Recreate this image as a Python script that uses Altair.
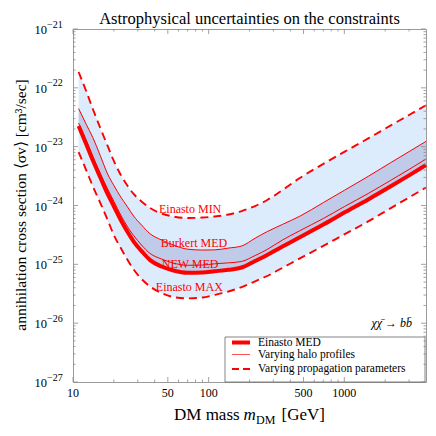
import altair as alt
import pandas as pd

# ---------------- data ----------------
mass = [11, 12.5, 14, 16, 18, 20, 22.5, 25, 28, 32, 37, 45, 55, 70, 90, 110,
        140, 175, 220, 270, 350, 470, 700, 1000, 1500, 2200, 3000, 4000]
einasto_med = [2.25e-23, 1.11e-23, 5.86e-24, 2.90e-24, 1.57e-24, 9.69e-25, 5.67e-25,
               3.68e-25, 2.44e-25, 1.68e-25, 1.18e-25, 9.18e-26, 7.85e-26, 7.18e-26,
               7.26e-26, 7.61e-26, 8.07e-26, 8.83e-26, 1.14e-25, 1.44e-25, 2.01e-25,
               2.89e-25, 4.75e-25, 7.57e-25, 1.27e-24, 2.12e-24, 3.25e-24, 4.88e-24]
new_med = [2.52e-23, 1.30e-23, 6.86e-24, 3.39e-24, 1.91e-24, 1.18e-24, 6.89e-25,
           4.48e-25, 3.09e-25, 2.13e-25, 1.53e-25, 1.23e-25, 1.05e-25, 9.62e-26,
           9.73e-26, 1.02e-25, 1.06e-25, 1.12e-25, 1.41e-25, 1.79e-25, 2.59e-25,
           3.73e-25, 6.01e-25, 9.57e-25, 1.60e-24, 2.68e-24, 4.10e-24, 6.17e-24]
burkert_med = [4.45e-23, 2.41e-23, 1.43e-23, 6.75e-24, 3.43e-24, 2.20e-24, 1.39e-24,
               9.76e-25, 6.60e-25, 4.66e-25, 3.31e-25, 2.59e-25, 2.13e-25, 1.81e-25,
               1.75e-25, 1.76e-25, 1.89e-25, 2.05e-25, 2.78e-25, 3.60e-25, 4.77e-25,
               6.58e-25, 1.12e-24, 1.81e-24, 3.13e-24, 5.36e-24, 8.24e-24, 1.23e-23]
einasto_min = [1.86e-22, 8.83e-23, 4.37e-23, 2.00e-23, 1.03e-23, 5.71e-24, 3.30e-24,
               2.23e-24, 1.57e-24, 1.17e-24, 9.06e-25, 7.31e-25, 6.50e-25, 6.12e-25,
               6.25e-25, 6.50e-25, 7.03e-25, 8.05e-25, 9.80e-25, 1.24e-24, 1.83e-24,
               2.93e-24, 5.09e-24, 8.15e-24, 1.38e-23, 2.30e-23, 3.45e-23, 5.05e-23]
einasto_max = [8.11e-24, 4.01e-24, 2.12e-24, 1.07e-24, 5.67e-25, 3.15e-25, 1.89e-25,
               1.23e-25, 8.16e-26, 5.63e-26, 4.20e-26, 3.25e-26, 2.78e-26, 2.64e-26,
               2.73e-26, 3.01e-26, 3.45e-26, 4.11e-26, 5.14e-26, 6.33e-26, 8.73e-26,
               1.26e-25, 2.06e-25, 3.23e-25, 5.37e-25, 9.03e-25, 1.37e-24, 2.02e-24]

curve_labels = ["Einasto MIN", "Burkert MED", "NEW MED", "Einasto MAX"]
curve_label_mass = [73, 78, 73, 72]
curve_label_sigma = [8.6e-25, 2.33e-25, 1.0e-25, 4.17e-26]

x_labels = [10, 50, 100, 500, 1000]
x_minor = [20, 30, 40, 60, 70, 80, 90, 200, 300, 400, 600, 700, 800, 900, 2000, 3000]
y_exponents = [-27, -26, -25, -24, -23, -22, -21]

legend_labels = ["Einasto MED", "Varying halo profiles", "Varying propagation parameters"]
title_text = "Astrophysical uncertainties on the constraints"
y_title = "annihilation cross section \u27e8\u03c3v\u27e9 [cm\u00b3/sec]"
process_text = "\u03c7\u03c7\u0304 \u2192 bb\u0304"

# ---------------- styling ----------------
FONT = "Liberation Serif"
RED = "#ff0000"
LIGHT = "#dcecfc"
DARK = "#bfcbe8"
TICK = "#8a8a8a"
W, H = 353, 353

df = pd.DataFrame({"mass": mass, "einasto_med": einasto_med, "new_med": new_med,
                   "burkert": burkert_med, "ein_min": einasto_min, "ein_max": einasto_max})

xs = alt.Scale(type="log", domain=[10, 4000], nice=False)
ys = alt.Scale(type="log", domain=[1e-27, 1e-21], nice=False)
X = alt.X("mass:Q", scale=xs, axis=None)

base = alt.Chart(df)
light = base.mark_area(color=LIGHT, interpolate="monotone").encode(
    x=X, y=alt.Y("ein_min:Q", scale=ys, axis=None), y2="ein_max:Q")
dark = base.mark_area(color=DARK, interpolate="monotone").encode(
    x=X, y=alt.Y("burkert:Q", scale=ys, axis=None), y2="einasto_med:Q")


def curve(field, **kw):
    return base.mark_line(color=RED, interpolate="monotone", **kw).encode(
        x=X, y=alt.Y(f"{field}:Q", scale=ys, axis=None))


lines = [
    curve("ein_min", strokeWidth=1.9, strokeDash=[8, 5]),
    curve("ein_max", strokeWidth=1.9, strokeDash=[8, 5]),
    curve("burkert", strokeWidth=1),
    curve("new_med", strokeWidth=1),
    curve("einasto_med", strokeWidth=4),
]

lab_df = pd.DataFrame({"t": curve_labels, "m": curve_label_mass, "s": curve_label_sigma})
labels = alt.Chart(lab_df).mark_text(font=FONT, fontSize=12, color=RED, baseline="middle").encode(
    x=alt.X("m:Q", scale=xs, axis=None), y=alt.Y("s:Q", scale=ys, axis=None), text="t:N")

one = pd.DataFrame({"k": [0]})


def txt(s, x, y, **kw):
    return alt.Chart(pd.DataFrame({"t": [s]})).mark_text(font=FONT, **kw).encode(
        text="t:N", x=alt.value(x), y=alt.value(y))


def rule(x, x2, y, y2, **kw):
    return alt.Chart(one).mark_rule(**kw).encode(
        x=alt.value(x), x2=alt.value(x2), y=alt.value(y), y2=alt.value(y2))


# legend
legend_box = alt.Chart(one).mark_rect(fill="white", stroke="#666666", strokeWidth=0.8).encode(
    x=alt.value(152), x2=alt.value(352), y=alt.value(308), y2=alt.value(353))
rows = [313.5, 325.5, 340]
legend = [
    legend_box,
    rule(159, 177, rows[0], rows[0], color=RED, strokeWidth=4),
    rule(159, 177, rows[1], rows[1], color="#ff5050", strokeWidth=1),
    rule(159, 177, rows[2], rows[2], color=RED, strokeWidth=1.9, strokeDash=[7, 4]),
]
for lbl, ry in zip(legend_labels, rows):
    legend.append(txt(lbl, 185, ry, fontSize=11.5, align="left", baseline="middle", color="black"))
legend.append(txt(process_text, 339, 298, fontSize=12, fontStyle="italic", align="right",
                  baseline="alphabetic", color="black"))

# ticks (drawn inside the frame)
xmaj = pd.DataFrame({"v": x_labels})
xmin = pd.DataFrame({"v": x_minor})
ymaj = pd.DataFrame({"v": [10.0 ** e for e in y_exponents]})
ymin = pd.DataFrame({"v": [k * 10.0 ** e for e in y_exponents[:-1] for k in range(2, 10)]})


def xt(d, L):
    xe = alt.X("v:Q", scale=xs, axis=None)
    return [alt.Chart(d).mark_rule(color=TICK, strokeWidth=0.8).encode(x=xe, y=alt.value(H), y2=alt.value(H - L)),
            alt.Chart(d).mark_rule(color=TICK, strokeWidth=0.8).encode(x=xe, y=alt.value(0), y2=alt.value(L))]


def yt(d, L):
    ye = alt.Y("v:Q", scale=ys, axis=None)
    return [alt.Chart(d).mark_rule(color=TICK, strokeWidth=0.8).encode(y=ye, x=alt.value(0), x2=alt.value(L)),
            alt.Chart(d).mark_rule(color=TICK, strokeWidth=0.8).encode(y=ye, x=alt.value(W), x2=alt.value(W - L))]


ticks = xt(xmaj, 5) + xt(xmin, 2.5) + yt(ymaj, 5) + yt(ymin, 2.5)

# tick labels
xl = alt.Chart(pd.DataFrame({"v": x_labels, "t": [str(v) for v in x_labels]})).mark_text(
    font=FONT, fontSize=12, baseline="alphabetic", align="center", color="black").encode(
    x=alt.X("v:Q", scale=xs, axis=None), y=alt.value(368), text="t:N")
ydf = pd.DataFrame({"v": [10.0 ** e for e in y_exponents],
                    "b": ["10"] * len(y_exponents),
                    "e": ["\u2212" + str(-e) for e in y_exponents]})
yl_base = alt.Chart(ydf).mark_text(font=FONT, fontSize=12.5, align="right", baseline="alphabetic",
                                   dy=5, color="black").encode(
    y=alt.Y("v:Q", scale=ys, axis=None), x=alt.value(-26), text="b:N")
yl_exp = alt.Chart(ydf).mark_text(font=FONT, fontSize=10, align="left", baseline="alphabetic",
                                  dy=-1.5, color="black").encode(
    y=alt.Y("v:Q", scale=ys, axis=None), x=alt.value(-26), text="e:N")

# titles
main_title = txt(title_text, W / 2, -5.5, fontSize=16.5, align="center", baseline="alphabetic", color="black")
xtitle = [
    txt("DM mass", 101, 391, fontSize=17, align="left", baseline="alphabetic", color="black"),
    txt("m", 170.5, 391, fontSize=17, fontStyle="italic", align="left", baseline="alphabetic", color="black"),
    txt("DM", 183, 394.5, fontSize=12, align="left", baseline="alphabetic", color="black"),
    txt("[GeV]", 208.5, 391, fontSize=17, align="left", baseline="alphabetic", color="black"),
]
ytitle = txt(y_title, -47, 176, fontSize=15.5, angle=270, align="center", baseline="alphabetic", color="black")

chart = alt.layer(
    light, dark, *lines, labels, *legend, *ticks, xl, yl_base, yl_exp, main_title, *xtitle, ytitle
).properties(
    width=W, height=H,
    autosize=alt.AutoSizeParams(type="none"),
    padding={"left": 65, "top": 21, "right": 2, "bottom": 46},
).configure_view(stroke="#9a9a9a", strokeWidth=1)

chart.save("out.html", embed_options={"renderer": "svg", "actions": False})
